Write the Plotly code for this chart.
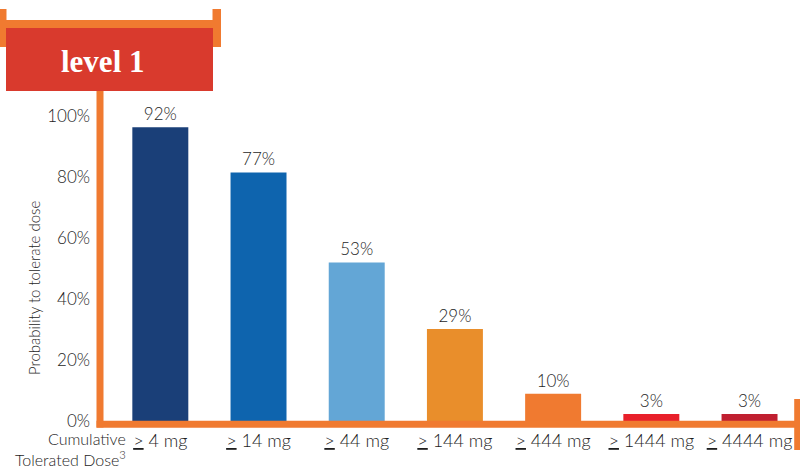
import plotly.graph_objects as go

# ---- data ----
categories = ["≥ 4 mg", "≥ 14 mg", "≥ 44 mg", "≥ 144 mg", "≥ 444 mg", "≥ 1444 mg", "≥ 4444 mg"]
tick_labels = ["<u>></u> 4 mg", "<u>></u> 14 mg", "<u>></u> 44 mg", "<u>></u> 144 mg",
               "<u>></u> 444 mg", "<u>></u> 1444 mg", "<u>></u> 4444 mg"]
bar_heights = [96.3, 81.5, 52.0, 30.2, 8.9, 2.3, 2.3]   # drawn heights
bar_labels = ["92%", "77%", "53%", "29%", "10%", "3%", "3%"]
bar_colors = ["#1A3F78", "#0E64AE", "#63A6D6", "#E98E2B", "#F07A30", "#E8202A", "#C01F30"]
y_ticks = [0, 20, 40, 60, 80, 100]
y_tick_text = ["0%", "20%", "40%", "60%", "80%", "100%"]

W, H = 800, 469
ML, MR, MT, MB = 96, 5, 116, 48
PW = W - ML - MR
PH = H - MT - MB
ORANGE = "#F07A30"
TEXT = "#1E1E1E"
FONT = "Lato"
WEIGHT = 300


def px(x):
    return (x - ML) / PW


def py(y):
    return (H - MB - y) / PH


fig = go.Figure(
    go.Bar(
        x=categories,
        y=bar_heights,
        marker=dict(color=bar_colors, line=dict(width=0)),
        width=0.57,
        text=bar_labels,
        textposition="outside",
        textfont=dict(family=FONT, size=17, color=TEXT, weight=WEIGHT),
        cliponaxis=False,
    )
)

shapes = [
    # vertical axis line
    dict(type="line", xref="paper", yref="paper", x0=px(100), x1=px(100), y0=py(91), y1=py(427.5),
         line=dict(color=ORANGE, width=7)),
    # horizontal axis line
    dict(type="line", xref="paper", yref="paper", x0=px(96.5), x1=px(797), y0=py(424.2), y1=py(424.2),
         line=dict(color=ORANGE, width=7)),
    # right end tick
    dict(type="line", xref="paper", yref="paper", x0=px(797.2), x1=px(797.2), y0=py(399), y1=py(450),
         line=dict(color=ORANGE, width=6)),
    # banner top bar
    dict(type="rect", xref="paper", yref="paper", x0=px(0), x1=px(221), y0=py(28), y1=py(20),
         fillcolor=ORANGE, line=dict(width=0), layer="above"),
    dict(type="rect", xref="paper", yref="paper", x0=px(0), x1=px(6.5), y0=py(47), y1=py(9),
         fillcolor=ORANGE, line=dict(width=0), layer="above"),
    dict(type="rect", xref="paper", yref="paper", x0=px(212.5), x1=px(221), y0=py(47), y1=py(9),
         fillcolor=ORANGE, line=dict(width=0), layer="above"),
    # red banner
    dict(type="rect", xref="paper", yref="paper", x0=px(6), x1=px(213), y0=py(91), y1=py(28),
         fillcolor="#D93A2D", line=dict(width=0), layer="above"),
]

annotations = [
    dict(text="<b>level 1</b>", xref="paper", yref="paper", x=px(103), y=py(61),
         xanchor="center", yanchor="middle", showarrow=False,
         font=dict(family="Liberation Serif", size=31, color="white")),
    dict(text="Probability to tolerate dose", xref="paper", yref="paper", x=px(34), y=py(288),
         xanchor="center", yanchor="middle", showarrow=False, textangle=-90,
         font=dict(family=FONT, size=15, color=TEXT, weight=WEIGHT)),
    dict(text="Cumulative<br>Tolerated Dose<sup>3</sup>", xref="paper", yref="paper", x=px(128), y=py(449),
         xanchor="right", yanchor="middle", align="right", showarrow=False,
         font=dict(family=FONT, size=16, color=TEXT, weight=WEIGHT)),
]

fig.update_layout(
    width=W, height=H,
    margin=dict(l=ML, r=MR, t=MT, b=MB, pad=0),
    paper_bgcolor="white", plot_bgcolor="white",
    showlegend=False,
    shapes=shapes,
    annotations=annotations,
    xaxis=dict(
        type="category",
        range=[-0.655, 6.463],
        tickvals=categories,
        ticktext=tick_labels,
        showgrid=False, zeroline=False, showline=False, ticks="",
        tickfont=dict(family=FONT, size=18, color=TEXT, weight=WEIGHT),
        ticklabelstandoff=7,
    ),
    yaxis=dict(
        range=[0, 100],
        tickvals=y_ticks,
        ticktext=y_tick_text,
        showgrid=False, zeroline=False, showline=False, ticks="",
        tickfont=dict(family=FONT, size=17, color=TEXT, weight=WEIGHT),
        ticklabelstandoff=5,
    ),
)

fig.write_html("out.html")
